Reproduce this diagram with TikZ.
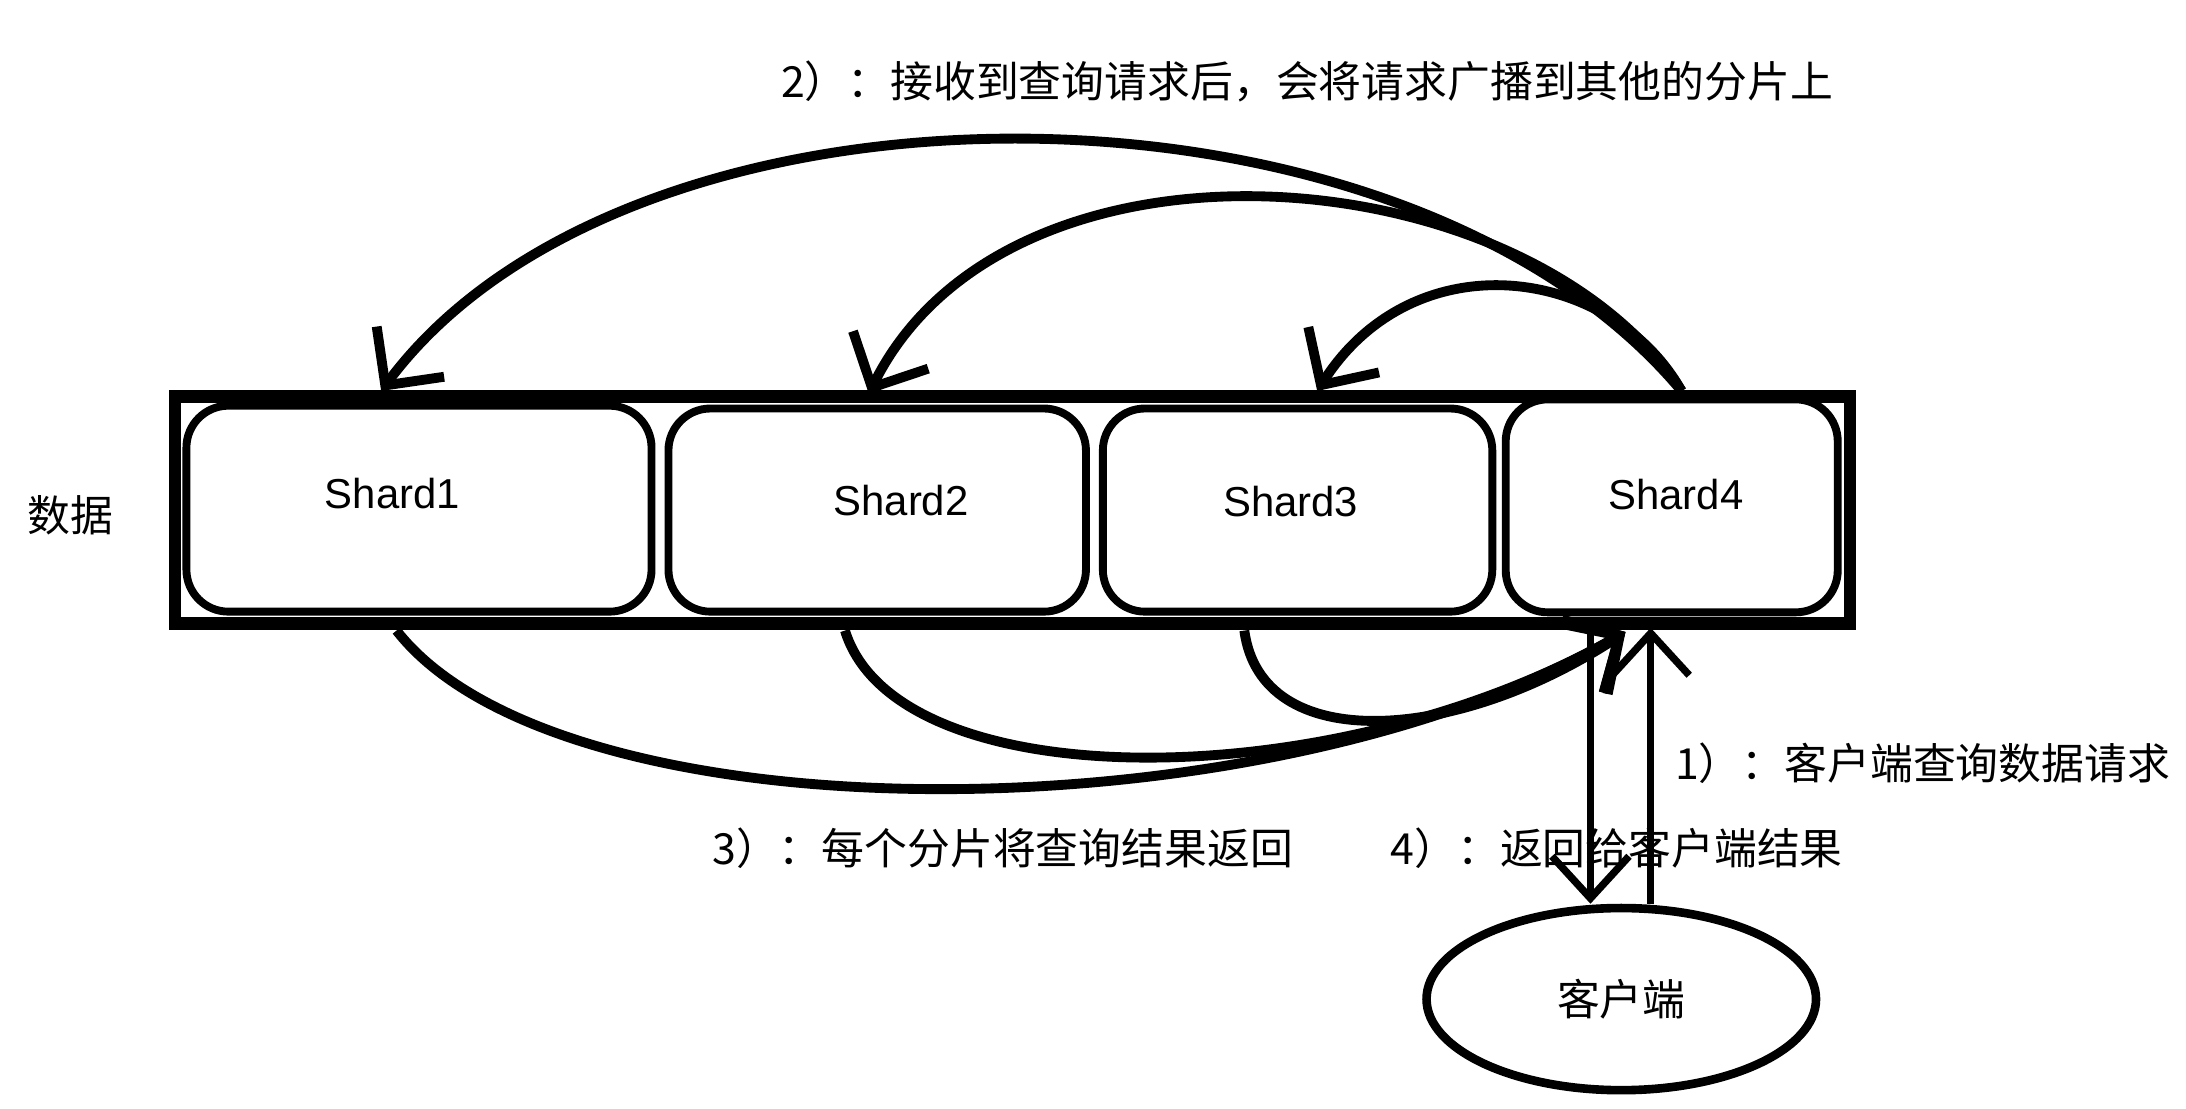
\documentclass[tikz,border=0pt]{standalone}
\usepackage{fontspec}
\setmainfont{Liberation Sans}
\newfontfamily\cjk{Noto Sans CJK SC}
\usetikzlibrary{arrows.meta,shapes.geometric}

\tikzset{
  shard/.style={draw, line width=3.2pt, rounded corners=0.6cm, inner sep=0pt},
  shardname/.style={font=\fontsize{17}{20}\selectfont},
  note/.style={font=\cjk\fontsize{17.4}{20}\selectfont, anchor=west, inner sep=0pt},
  hand/.style={line width=4pt, -{Straight Barb[length=0.6cm,width=1.2cm]}},
  vline/.style={line width=3pt, -{Straight Barb[length=0.6cm,width=1.1cm]}},
}

\begin{document}
\begin{tikzpicture}[x=0.02cm, y=-0.02cm]
\useasboundingbox (0,0) rectangle (1560,791);

% data store with its four shards
\draw[line width=5pt] (125,283) rectangle (1320,445);
\node[shard, minimum width=6.64cm, minimum height=2.94cm] (s1) at (299,363) {};
\node[shard, minimum width=5.96cm, minimum height=2.9cm] (s2) at (626,364) {};
\node[shard, minimum width=5.56cm, minimum height=2.9cm] (s3) at (926,364) {};
\node[shard, minimum width=4.74cm, minimum height=3.04cm] (s4) at (1193,361) {};

\node[shardname] (n1) at (280,352) {Shard1};
\node[shardname] (n2) at (643,357) {Shard2};
\node[shardname] (n3) at (921,358) {Shard3};
\node[shardname] (n4) at (1196,353) {Shard4};

\node[note, anchor=center] (db) at (50,368) {数据};

% client
\node[draw, ellipse, line width=3.5pt, minimum width=5.56cm, minimum height=2.6cm,
      font=\cjk\fontsize{17.4}{20}\selectfont] (cl) at (1157,713) {客户端};

% broadcast from shard4
\coordinate (top4) at (1200,279);
\coordinate (top1) at (272,279);
\coordinate (top2) at (620,281);
\coordinate (top3) at (940,279);
\draw[hand] (top4) .. controls (1000,40) and (450,40) .. (top1);
\draw[hand] (top4) .. controls (1090,110) and (720,80) .. (top2);
\draw[hand] (top4) .. controls (1150,190) and (1010,170) .. (top3);

% results back to shard4
\coordinate (bot1) at (283,450);
\coordinate (bot2) at (603,450);
\coordinate (bot3) at (888,450);
\coordinate (bot4) at (1160,451);
\draw[hand] (bot1) .. controls (400,600) and (900,600) .. (bot4);
\draw[hand] (bot2) .. controls (640,570) and (950,570) .. (bot4);
\draw[hand] (bot3) .. controls (900,540) and (1040,530) .. (bot4);

% client request and reply
\coordinate (q4) at (1135,452);
\coordinate (q1) at (1178,448);
\draw[vline] (q4) -- (q4 |- cl.north);
\draw[vline] (q1 |- cl.north) -- (q1);

\node[note] (l2) at (557,58) {2）：接收到查询请求后，会将请求广播到其他的分片上};
\node[note] (l1) at (1195,545) {1）：客户端查询数据请求};
\node[note] (l3) at (508,605) {3）：每个分片将查询结果返回};
\node[note] (l4) at (992,605) {4）：返回给客户端结果};
\end{tikzpicture}
\end{document}
